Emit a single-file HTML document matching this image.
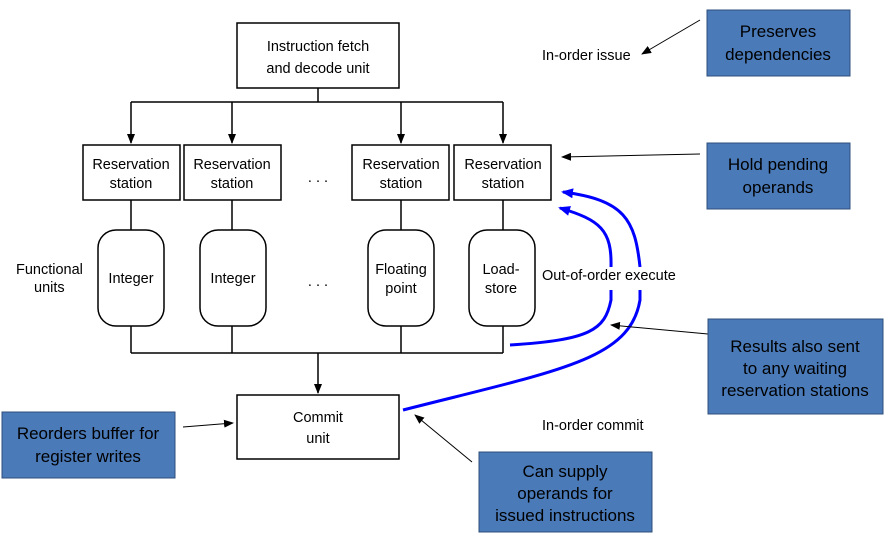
<!DOCTYPE html>
<html><head><style>
body{margin:0;background:#fff}
svg{display:block}
text{font-family:"Liberation Sans",sans-serif;font-size:14.5px;fill:#000}
.b{fill:#fff;stroke:#000;stroke-width:1.5}
.c{fill:#4a7ab8;stroke:#2d4f7c;stroke-width:1}
.ct{font-size:17px}
</style></head><body>
<svg width="888" height="535" viewBox="0 0 888 535">
<defs>
<marker id="a" markerWidth="10" markerHeight="8" refX="9" refY="4" orient="auto" markerUnits="userSpaceOnUse"><path d="M0,0L10,4L0,8z" fill="#000"/></marker>
<marker id="bl" markerWidth="12" markerHeight="10" refX="10" refY="5" orient="auto" markerUnits="userSpaceOnUse"><path d="M0,0L12,5L0,10z" fill="#00f"/></marker>
</defs>
<g stroke="#000" stroke-width="1.5" fill="none">
<line x1="318" y1="88" x2="318" y2="102"/>
<line x1="131" y1="102" x2="503" y2="102"/>
<line x1="131" y1="102" x2="131" y2="143" marker-end="url(#a)"/>
<line x1="232" y1="102" x2="232" y2="143" marker-end="url(#a)"/>
<line x1="401" y1="102" x2="401" y2="143" marker-end="url(#a)"/>
<line x1="503" y1="102" x2="503" y2="143" marker-end="url(#a)"/>
<line x1="131" y1="200" x2="131" y2="230"/><line x1="232" y1="200" x2="232" y2="230"/>
<line x1="401" y1="200" x2="401" y2="230"/><line x1="503" y1="200" x2="503" y2="230"/>
<line x1="131" y1="326" x2="131" y2="353"/><line x1="232" y1="326" x2="232" y2="353"/>
<line x1="401" y1="326" x2="401" y2="353"/><line x1="503" y1="326" x2="503" y2="353"/>
<line x1="131" y1="353" x2="503" y2="353"/>
<line x1="318" y1="353" x2="318" y2="393" marker-end="url(#a)"/>
</g>
<rect class="b" x="237" y="23" width="162" height="65"/>
<text x="318" y="51" text-anchor="middle">Instruction fetch</text>
<text x="318" y="73" text-anchor="middle">and decode unit</text>
<g>
<rect class="b" x="83" y="145" width="97" height="55"/><text x="131" y="169" text-anchor="middle">Reservation</text><text x="131" y="188" text-anchor="middle">station</text>
<rect class="b" x="184" y="145" width="97" height="55"/><text x="232" y="169" text-anchor="middle">Reservation</text><text x="232" y="188" text-anchor="middle">station</text>
<rect class="b" x="352" y="145" width="97" height="55"/><text x="401" y="169" text-anchor="middle">Reservation</text><text x="401" y="188" text-anchor="middle">station</text>
<rect class="b" x="454" y="145" width="97" height="55"/><text x="503" y="169" text-anchor="middle">Reservation</text><text x="503" y="188" text-anchor="middle">station</text>
</g>
<text x="318" y="182" text-anchor="middle">. . .</text>
<text x="318" y="286" text-anchor="middle">. . .</text>
<rect class="b" x="98" y="230" width="66" height="96" rx="18"/><text x="131" y="283" text-anchor="middle">Integer</text>
<rect class="b" x="200" y="230" width="66" height="96" rx="18"/><text x="233" y="283" text-anchor="middle">Integer</text>
<rect class="b" x="368" y="230" width="66" height="96" rx="18"/><text x="401" y="274" text-anchor="middle">Floating</text><text x="401" y="293" text-anchor="middle">point</text>
<rect class="b" x="469" y="230" width="66" height="96" rx="18"/><text x="501" y="274" text-anchor="middle">Load-</text><text x="501" y="293" text-anchor="middle">store</text>
<text x="16" y="274">Functional</text><text x="34" y="292">units</text>
<rect class="b" x="237" y="395" width="162" height="64"/>
<text x="318" y="422" text-anchor="middle">Commit</text><text x="318" y="443" text-anchor="middle">unit</text>
<text x="542" y="60">In-order issue</text>
<text x="542" y="280">Out-of-order execute</text>
<text x="542" y="430">In-order commit</text>
<g fill="none" stroke="#00f" stroke-width="3">
<path d="M510,345 C590,340 605,330 611,300 L611,290 M611,267 C612,230 600,220 560,208" marker-end="url(#bl)"/>
<path d="M403,410 C560,370 630,360 640,300 L640,290 M640,267 C635,220 625,200 563,192" marker-end="url(#bl)"/>
</g>
<g stroke="#000" stroke-width="1" fill="none">
<line x1="700" y1="20" x2="642" y2="54" marker-end="url(#a)"/>
<line x1="700" y1="154" x2="562" y2="157" marker-end="url(#a)"/>
<line x1="708" y1="334" x2="611" y2="325" marker-end="url(#a)"/>
<line x1="183" y1="427" x2="233" y2="423" marker-end="url(#a)"/>
<line x1="472" y1="462" x2="415" y2="415" marker-end="url(#a)"/>
</g>
<rect class="c" x="707" y="10" width="143" height="66"/>
<text class="ct" x="778" y="37" text-anchor="middle">Preserves</text><text class="ct" x="778" y="60" text-anchor="middle">dependencies</text>
<rect class="c" x="707" y="143" width="143" height="66"/>
<text class="ct" x="778" y="170" text-anchor="middle">Hold pending</text><text class="ct" x="778" y="193" text-anchor="middle">operands</text>
<rect class="c" x="708" y="319" width="175" height="95"/>
<text class="ct" x="795" y="352" text-anchor="middle">Results also sent</text><text class="ct" x="795" y="374" text-anchor="middle">to any waiting</text><text class="ct" x="795" y="396" text-anchor="middle">reservation stations</text>
<rect class="c" x="2" y="412" width="173" height="66"/>
<text class="ct" x="88" y="439" text-anchor="middle">Reorders buffer for</text><text class="ct" x="88" y="462" text-anchor="middle">register writes</text>
<rect class="c" x="479" y="452" width="173" height="80"/>
<text class="ct" x="565" y="477" text-anchor="middle">Can supply</text><text class="ct" x="565" y="499" text-anchor="middle">operands for</text><text class="ct" x="565" y="521" text-anchor="middle">issued instructions</text>
</svg>
</body></html>
